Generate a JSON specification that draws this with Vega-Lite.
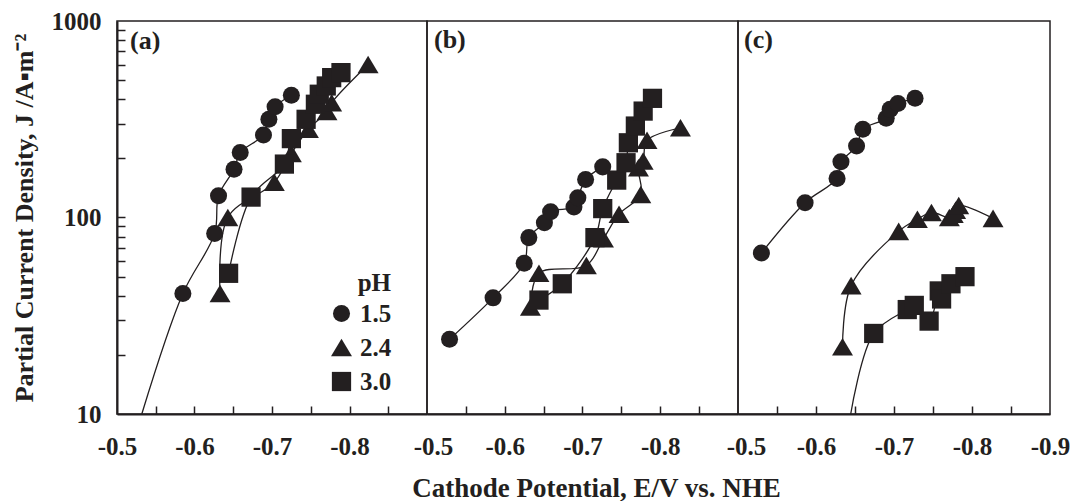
{
  "$schema": "https://vega.github.io/schema/vega-lite/v6.json",
  "background": "white",
  "padding": {"left": 10, "top": 8, "right": 0, "bottom": 0},
  "spacing": 0,
  "bounds": "flush",
  "datasets": {
    "rows": [
      {"panel": "a", "pH": "1.5", "E": -0.532, "J": 10, "kind": "fit"},
      {"panel": "a", "pH": "1.5", "E": -0.585, "J": 41, "kind": "measured"},
      {"panel": "a", "pH": "1.5", "E": -0.626, "J": 83, "kind": "measured"},
      {"panel": "a", "pH": "1.5", "E": -0.631, "J": 129, "kind": "measured"},
      {"panel": "a", "pH": "1.5", "E": -0.651, "J": 176, "kind": "measured"},
      {"panel": "a", "pH": "1.5", "E": -0.659, "J": 214, "kind": "measured"},
      {"panel": "a", "pH": "1.5", "E": -0.689, "J": 263, "kind": "measured"},
      {"panel": "a", "pH": "1.5", "E": -0.696, "J": 316, "kind": "measured"},
      {"panel": "a", "pH": "1.5", "E": -0.704, "J": 366, "kind": "measured"},
      {"panel": "a", "pH": "1.5", "E": -0.725, "J": 419, "kind": "measured"},
      {"panel": "a", "pH": "2.4", "E": -0.633, "J": 41, "kind": "measured"},
      {"panel": "a", "pH": "2.4", "E": -0.643, "J": 100, "kind": "measured"},
      {"panel": "a", "pH": "2.4", "E": -0.703, "J": 151, "kind": "measured"},
      {"panel": "a", "pH": "2.4", "E": -0.725, "J": 212, "kind": "measured"},
      {"panel": "a", "pH": "2.4", "E": -0.747, "J": 281, "kind": "measured"},
      {"panel": "a", "pH": "2.4", "E": -0.771, "J": 346, "kind": "measured"},
      {"panel": "a", "pH": "2.4", "E": -0.777, "J": 384, "kind": "measured"},
      {"panel": "a", "pH": "2.4", "E": -0.824, "J": 601, "kind": "measured"},
      {"panel": "a", "pH": "3.0", "E": -0.644, "J": 52, "kind": "measured"},
      {"panel": "a", "pH": "3.0", "E": -0.673, "J": 127, "kind": "measured"},
      {"panel": "a", "pH": "3.0", "E": -0.716, "J": 187, "kind": "measured"},
      {"panel": "a", "pH": "3.0", "E": -0.725, "J": 252, "kind": "measured"},
      {"panel": "a", "pH": "3.0", "E": -0.744, "J": 316, "kind": "measured"},
      {"panel": "a", "pH": "3.0", "E": -0.756, "J": 377, "kind": "measured"},
      {"panel": "a", "pH": "3.0", "E": -0.761, "J": 424, "kind": "measured"},
      {"panel": "a", "pH": "3.0", "E": -0.770, "J": 467, "kind": "measured"},
      {"panel": "a", "pH": "3.0", "E": -0.777, "J": 515, "kind": "measured"},
      {"panel": "a", "pH": "3.0", "E": -0.789, "J": 546, "kind": "measured"},

      {"panel": "b", "pH": "1.5", "E": -0.529, "J": 24, "kind": "measured"},
      {"panel": "b", "pH": "1.5", "E": -0.585, "J": 39, "kind": "measured"},
      {"panel": "b", "pH": "1.5", "E": -0.625, "J": 58.5, "kind": "measured"},
      {"panel": "b", "pH": "1.5", "E": -0.631, "J": 79, "kind": "measured"},
      {"panel": "b", "pH": "1.5", "E": -0.651, "J": 94, "kind": "measured"},
      {"panel": "b", "pH": "1.5", "E": -0.659, "J": 107, "kind": "measured"},
      {"panel": "b", "pH": "1.5", "E": -0.689, "J": 113, "kind": "measured"},
      {"panel": "b", "pH": "1.5", "E": -0.694, "J": 126, "kind": "measured"},
      {"panel": "b", "pH": "1.5", "E": -0.704, "J": 156, "kind": "measured"},
      {"panel": "b", "pH": "1.5", "E": -0.726, "J": 181, "kind": "measured"},
      {"panel": "b", "pH": "2.4", "E": -0.633, "J": 35, "kind": "measured"},
      {"panel": "b", "pH": "2.4", "E": -0.644, "J": 52, "kind": "measured"},
      {"panel": "b", "pH": "2.4", "E": -0.705, "J": 57, "kind": "measured"},
      {"panel": "b", "pH": "2.4", "E": -0.727, "J": 78, "kind": "measured"},
      {"panel": "b", "pH": "2.4", "E": -0.747, "J": 104, "kind": "measured"},
      {"panel": "b", "pH": "2.4", "E": -0.775, "J": 131, "kind": "measured"},
      {"panel": "b", "pH": "2.4", "E": -0.772, "J": 179, "kind": "measured"},
      {"panel": "b", "pH": "2.4", "E": -0.778, "J": 194, "kind": "measured"},
      {"panel": "b", "pH": "2.4", "E": -0.783, "J": 247, "kind": "measured"},
      {"panel": "b", "pH": "2.4", "E": -0.826, "J": 286, "kind": "measured"},
      {"panel": "b", "pH": "3.0", "E": -0.644, "J": 38, "kind": "measured"},
      {"panel": "b", "pH": "3.0", "E": -0.674, "J": 46, "kind": "measured"},
      {"panel": "b", "pH": "3.0", "E": -0.716, "J": 79, "kind": "measured"},
      {"panel": "b", "pH": "3.0", "E": -0.726, "J": 111, "kind": "measured"},
      {"panel": "b", "pH": "3.0", "E": -0.744, "J": 155, "kind": "measured"},
      {"panel": "b", "pH": "3.0", "E": -0.756, "J": 190, "kind": "measured"},
      {"panel": "b", "pH": "3.0", "E": -0.759, "J": 240, "kind": "measured"},
      {"panel": "b", "pH": "3.0", "E": -0.768, "J": 292, "kind": "measured"},
      {"panel": "b", "pH": "3.0", "E": -0.778, "J": 348, "kind": "measured"},
      {"panel": "b", "pH": "3.0", "E": -0.790, "J": 404, "kind": "measured"},

      {"panel": "c", "pH": "1.5", "E": -0.530, "J": 66, "kind": "measured"},
      {"panel": "c", "pH": "1.5", "E": -0.586, "J": 119, "kind": "measured"},
      {"panel": "c", "pH": "1.5", "E": -0.627, "J": 158, "kind": "measured"},
      {"panel": "c", "pH": "1.5", "E": -0.632, "J": 192, "kind": "measured"},
      {"panel": "c", "pH": "1.5", "E": -0.652, "J": 231, "kind": "measured"},
      {"panel": "c", "pH": "1.5", "E": -0.660, "J": 281, "kind": "measured"},
      {"panel": "c", "pH": "1.5", "E": -0.690, "J": 320, "kind": "measured"},
      {"panel": "c", "pH": "1.5", "E": -0.695, "J": 355, "kind": "measured"},
      {"panel": "c", "pH": "1.5", "E": -0.705, "J": 380, "kind": "measured"},
      {"panel": "c", "pH": "1.5", "E": -0.727, "J": 404, "kind": "measured"},
      {"panel": "c", "pH": "2.4", "E": -0.634, "J": 22, "kind": "measured"},
      {"panel": "c", "pH": "2.4", "E": -0.645, "J": 45, "kind": "measured"},
      {"panel": "c", "pH": "2.4", "E": -0.706, "J": 85, "kind": "measured"},
      {"panel": "c", "pH": "2.4", "E": -0.730, "J": 98, "kind": "measured"},
      {"panel": "c", "pH": "2.4", "E": -0.748, "J": 106, "kind": "measured"},
      {"panel": "c", "pH": "2.4", "E": -0.771, "J": 100, "kind": "measured"},
      {"panel": "c", "pH": "2.4", "E": -0.776, "J": 104, "kind": "measured"},
      {"panel": "c", "pH": "2.4", "E": -0.779, "J": 109, "kind": "measured"},
      {"panel": "c", "pH": "2.4", "E": -0.783, "J": 115, "kind": "measured"},
      {"panel": "c", "pH": "2.4", "E": -0.827, "J": 99, "kind": "measured"},
      {"panel": "c", "pH": "3.0", "E": -0.6445, "J": 10, "kind": "fit"},
      {"panel": "c", "pH": "3.0", "E": -0.674, "J": 25.7, "kind": "measured"},
      {"panel": "c", "pH": "3.0", "E": -0.717, "J": 34, "kind": "measured"},
      {"panel": "c", "pH": "3.0", "E": -0.726, "J": 35.7, "kind": "measured"},
      {"panel": "c", "pH": "3.0", "E": -0.745, "J": 29.7, "kind": "measured"},
      {"panel": "c", "pH": "3.0", "E": -0.758, "J": 42.3, "kind": "measured"},
      {"panel": "c", "pH": "3.0", "E": -0.761, "J": 38.5, "kind": "measured"},
      {"panel": "c", "pH": "3.0", "E": -0.773, "J": 46, "kind": "measured"},
      {"panel": "c", "pH": "3.0", "E": -0.791, "J": 50, "kind": "measured"}
    ]
  },
  "config": {
    "font": "Liberation Serif",
    "view": {"stroke": "#231f20", "strokeWidth": 1.5},
    "axis": {
      "grid": false,
      "labelFont": "Liberation Serif",
      "labelFontWeight": "bold",
      "labelFontSize": 25,
      "labelColor": "#231f20",
      "titleFont": "Liberation Serif",
      "titleFontWeight": "bold",
      "titleFontSize": 26,
      "titleColor": "#231f20",
      "domainColor": "#231f20",
      "domainWidth": 2,
      "tickColor": "#231f20",
      "tickWidth": 1.5,
      "tickSize": 8,
      "labelOverlap": false,
      "labelBound": false,
      "labelFlush": false
    },
    "title": {
      "font": "Liberation Serif",
      "fontWeight": "bold",
      "fontSize": 26,
      "color": "#231f20",
      "anchor": "start",
      "orient": "top",
      "frame": "group",
      "baseline": "alphabetic",
      "offset": -32,
      "dx": 7
    },
    "legend": {
      "labelFont": "Liberation Serif",
      "labelFontWeight": "bold",
      "labelFontSize": 25,
      "labelColor": "#231f20",
      "titleFont": "Liberation Serif",
      "titleFontWeight": "bold",
      "titleFontSize": 25,
      "titleColor": "#231f20"
    }
  },
  "resolve": {"scale": {"shape": "independent"}, "legend": {"shape": "independent"}},
  "hconcat": [
    {
      "width": 310,
      "height": 393,
      "title": {"text": "(a)", "offset": -45, "dx": 13},
      "data": {"name": "rows"},
      "transform": [{"filter": "datum.panel === 'a'"}],
      "layer": [
        {
          "mark": {"type": "line", "interpolate": "catmull-rom", "color": "#231f20", "strokeWidth": 1.3},
          "encoding": {
            "x": {
              "field": "E", "type": "quantitative",
              "scale": {"domain": [-0.5, -0.9], "nice": false, "zero": false},
              "axis": {
                "title": null,
                "ticks": false,
                "values": [-0.5, -0.6, -0.7, -0.8],
                "labelExpr": "'-0.' + round(-datum.value * 10)",
                "labelPadding": 20
              }
            },
            "y": {
              "field": "J", "type": "quantitative",
              "scale": {"type": "log", "domain": [10, 1000], "nice": false},
              "axis": {
                "title": "Partial Current Density, J /A▪m⁻²",
                "ticks": false,
                "values": [10, 100, 1000],
                "labelExpr": "'' + datum.value",
                "labelPadding": 16,
                "titlePadding": 14
              }
            },
            "detail": {"field": "pH"},
            "order": {"value": null}
          }
        },
        {
          "transform": [{"filter": "datum.kind === 'measured'"}],
          "mark": {"type": "point", "filled": true, "size": 290, "opacity": 1, "color": "#231f20", "strokeWidth": 0},
          "encoding": {
            "x": {
              "field": "E", "type": "quantitative",
              "axis": {"orient": "top", "offset": -393, "title": null, "labels": false, "domain": false, "values": [-0.55, -0.6, -0.65, -0.7, -0.75, -0.8, -0.85]}
            },
            "y": {
              "field": "J", "type": "quantitative",
              "axis": {"orient": "right", "offset": -310, "title": null, "labels": false, "domain": false, "values": [20, 30, 40, 50, 60, 70, 80, 90, 100, 200, 300, 400, 500, 600, 700, 800, 900]}
            },
            "shape": {
              "field": "pH", "type": "nominal",
              "scale": {"domain": ["1.5", "2.4", "3.0"], "range": ["circle", "M0,-1.03L1.23,1.03L-1.23,1.03Z", "M-1.13,-1.13H1.13V1.13H-1.13Z"]},
              "legend": {"orient": "none", "legendX": 212, "legendY": 250, "title": "pH", "titleAnchor": "end", "symbolSize": 290, "symbolStrokeWidth": 0, "symbolFillColor": "#231f20", "labelOffset": 6, "rowPadding": 8}
            }
          }
        }
      ],
      "resolve": {"axis": {"x": "independent", "y": "independent"}}
    },
    {
      "width": 311,
      "height": 393,
      "title": "(b)",
      "data": {"name": "rows"},
      "transform": [{"filter": "datum.panel === 'b'"}],
      "layer": [
        {
          "mark": {"type": "line", "interpolate": "catmull-rom", "color": "#231f20", "strokeWidth": 1.3},
          "encoding": {
            "x": {
              "field": "E", "type": "quantitative",
              "scale": {"domain": [-0.5, -0.9], "nice": false, "zero": false},
              "axis": {
                "title": "Cathode Potential, E/V vs. NHE",
                "titleFontSize": 27,
                "titleX": 169,
                "ticks": false,
                "values": [-0.5, -0.6, -0.7, -0.8],
                "labelExpr": "'-0.' + round(-datum.value * 10)",
                "labelOffset": {"condition": {"test": "datum.value === -0.5", "value": 6}, "value": 0},
                "labelPadding": 20,
                "titlePadding": 16
              }
            },
            "y": {
              "field": "J", "type": "quantitative",
              "scale": {"type": "log", "domain": [10, 1000], "nice": false},
              "axis": null
            },
            "detail": {"field": "pH"},
            "order": {"value": null}
          }
        },
        {
          "transform": [{"filter": "datum.kind === 'measured'"}],
          "mark": {"type": "point", "filled": true, "size": 290, "opacity": 1, "color": "#231f20", "strokeWidth": 0},
          "encoding": {
            "x": {
              "field": "E", "type": "quantitative",
              "axis": {"orient": "top", "offset": -393, "title": null, "labels": false, "domain": false, "values": [-0.55, -0.6, -0.65, -0.7, -0.75, -0.8, -0.85]}
            },
            "y": {"field": "J", "type": "quantitative", "axis": null},
            "shape": {
              "field": "pH", "type": "nominal",
              "scale": {"domain": ["1.5", "2.4", "3.0"], "range": ["circle", "M0,-1.03L1.23,1.03L-1.23,1.03Z", "M-1.13,-1.13H1.13V1.13H-1.13Z"]},
              "legend": null
            }
          }
        }
      ],
      "resolve": {"axis": {"x": "independent"}}
    },
    {
      "width": 312,
      "height": 393,
      "title": {"text": "(c)", "dx": 6},
      "data": {"name": "rows"},
      "transform": [{"filter": "datum.panel === 'c'"}],
      "layer": [
        {
          "mark": {"type": "line", "interpolate": "catmull-rom", "color": "#231f20", "strokeWidth": 1.3},
          "encoding": {
            "x": {
              "field": "E", "type": "quantitative",
              "scale": {"domain": [-0.5, -0.9], "nice": false, "zero": false},
              "axis": {
                "title": null,
                "ticks": false,
                "values": [-0.5, -0.6, -0.7, -0.8, -0.9],
                "labelExpr": "'-0.' + round(-datum.value * 10)",
                "labelOffset": {"condition": {"test": "datum.value === -0.5", "value": 8}, "value": 0},
                "labelPadding": 20
              }
            },
            "y": {
              "field": "J", "type": "quantitative",
              "scale": {"type": "log", "domain": [10, 1000], "nice": false},
              "axis": null
            },
            "detail": {"field": "pH"},
            "order": {"value": null}
          }
        },
        {
          "transform": [{"filter": "datum.kind === 'measured'"}],
          "mark": {"type": "point", "filled": true, "size": 290, "opacity": 1, "color": "#231f20", "strokeWidth": 0},
          "encoding": {
            "x": {
              "field": "E", "type": "quantitative",
              "axis": {"orient": "top", "offset": -393, "title": null, "labels": false, "domain": false, "values": [-0.55, -0.6, -0.65, -0.7, -0.75, -0.8, -0.85]}
            },
            "y": {"field": "J", "type": "quantitative", "axis": null},
            "shape": {
              "field": "pH", "type": "nominal",
              "scale": {"domain": ["1.5", "2.4", "3.0"], "range": ["circle", "M0,-1.03L1.23,1.03L-1.23,1.03Z", "M-1.13,-1.13H1.13V1.13H-1.13Z"]},
              "legend": null
            }
          }
        }
      ],
      "resolve": {"axis": {"x": "independent"}}
    }
  ]
}
